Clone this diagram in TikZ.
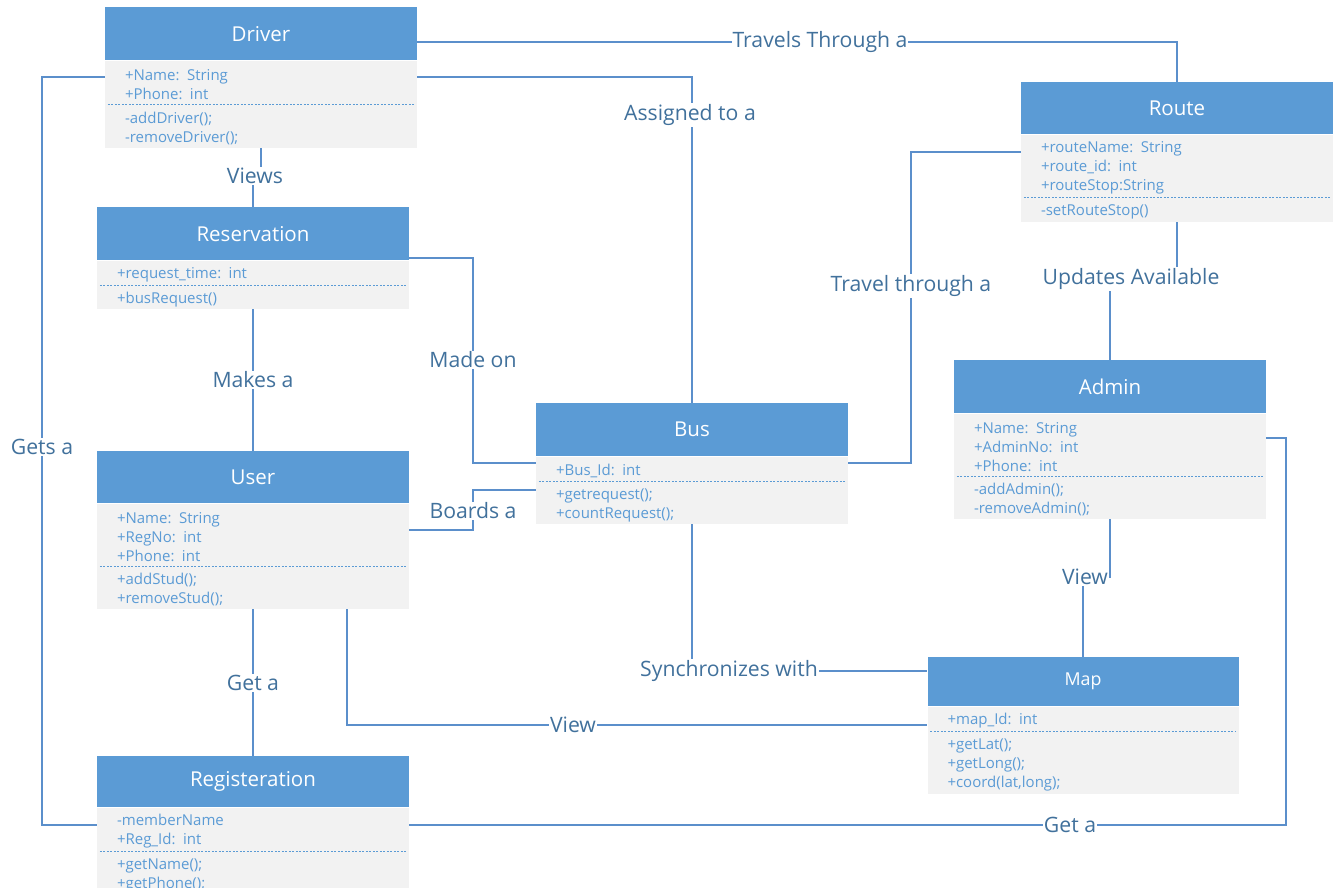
\documentclass[tikz,border=0pt]{standalone}
\usepackage{fontspec}
\setmainfont{Open Sans}
\usetikzlibrary{positioning}
\definecolor{head fill}{RGB}{91,155,213}
\definecolor{body fill}{RGB}{242,242,242}
\definecolor{body text}{RGB}{91,155,213}
\definecolor{link line}{RGB}{91,143,203}
\definecolor{link text}{RGB}{65,113,156}
\tikzset{head/.style={fill=head fill, text=white, anchor=north, minimum width=312pt,
        minimum height=53pt, inner sep=0pt, font=\fontsize{20.5}{24}\selectfont},
    body/.style={fill=body fill, text=body text, text width=272pt, inner xsep=20pt,
        inner ysep=0pt, align=left, font=\fontsize{15}{19}\selectfont,
        execute at begin node={\rule{0pt}{15pt}}},
    sep/.style={draw=body text, dash pattern=on 2pt off 1.5pt, line width=0.8pt},
    link/.style={draw=link line, line width=1.2pt},
    tag/.style={fill=white, text=link text, inner xsep=1pt, inner ysep=1pt,
        font=\fontsize{21.2}{25}\selectfont}}

\begin{document}
\begin{tikzpicture}[x=1pt,y=-1pt]
    \useasboundingbox (0,0) rectangle (1336,888);

    \node[head] (driver) at (261,7) {Driver};
    \node[body, minimum height=44pt, below=0pt of driver] (driver-a) {+Name: String\\+Phone: int};
    \node[body, minimum height=43pt, below=0pt of driver-a] (driver-o) {-addDriver();\\-removeDriver();};
    \draw[sep] ([xshift=3pt]driver-a.south west) -- ([xshift=-3pt]driver-a.south east);

    \node[head, minimum height=52pt] (route) at (1177,82) {Route};
    \node[body, minimum height=63pt, below=0pt of route] (route-a) {+routeName: String\\+route\_id: int\\+routeStop:String};
    \node[body, minimum height=24pt, below=0pt of route-a] (route-o) {-setRouteStop()};
    \draw[sep] ([xshift=3pt]route-a.south west) -- ([xshift=-3pt]route-a.south east);

    \node[head] (reservation) at (253,207) {Reservation};
    \node[body, minimum height=25pt, below=0pt of reservation] (reservation-a) {+request\_time: int};
    \node[body, minimum height=23pt, below=0pt of reservation-a] (reservation-o) {+busRequest()};
    \draw[sep] ([xshift=3pt]reservation-a.south west) -- ([xshift=-3pt]reservation-a.south east);

    \node[head] (bus) at (692,403) {Bus};
    \node[body, minimum height=25pt, below=0pt of bus] (bus-a) {+Bus\_Id: int};
    \node[body, minimum height=42pt, below=0pt of bus-a] (bus-o) {+getrequest();\\+countRequest();};
    \draw[sep] ([xshift=3pt]bus-a.south west) -- ([xshift=-3pt]bus-a.south east);

    \node[head] (admin) at (1110,360) {Admin};
    \node[body, minimum height=63pt, below=0pt of admin] (admin-a) {+Name: String\\+AdminNo: int\\+Phone: int};
    \node[body, minimum height=42pt, below=0pt of admin-a] (admin-o) {-addAdmin();\\-removeAdmin();};
    \draw[sep] ([xshift=3pt]admin-a.south west) -- ([xshift=-3pt]admin-a.south east);

    \node[head, minimum height=52pt] (user) at (253,451) {User};
    \node[body, minimum height=63pt, below=0pt of user] (user-a) {+Name: String\\+RegNo: int\\+Phone: int};
    \node[body, minimum height=42pt, below=0pt of user-a] (user-o) {+addStud();\\+removeStud();};
    \draw[sep] ([xshift=3pt]user-a.south west) -- ([xshift=-3pt]user-a.south east);

    \node[head, minimum width=311pt, minimum height=49pt, font=\fontsize{17.8}{22}\selectfont] (map) at (1083,657) {Map};
    \node[body, text width=271pt, minimum height=25pt, below=0pt of map] (map-a) {+map\_Id: int};
    \node[body, text width=271pt, minimum height=62pt, below=0pt of map-a] (map-o) {+getLat();\\+getLong();\\+coord(lat,long);};
    \draw[sep] ([xshift=3pt]map-a.south west) -- ([xshift=-3pt]map-a.south east);

    \node[head, minimum height=51pt] (reg) at (253,756) {Registeration};
    \node[body, minimum height=44pt, below=0pt of reg] (reg-a) {-memberName\\+Reg\_Id: int};
    \node[body, minimum height=42pt, below=0pt of reg-a] (reg-o) {+getName();\\+getPhone();};
    \draw[sep] ([xshift=3pt]reg-a.south west) -- ([xshift=-3pt]reg-a.south east);

    \draw[link] (driver.east |- 0,42) -| (route.north);
    \draw[link] (driver-a.east |- 0,77) -| (bus.north);
    \draw[link] (driver-a.west |- 0,77) -| (42,825) -- (reg-a.west |- 0,825);
    \draw[link] (driver-o.south) |- (253,176) -- (reservation.north);
    \draw[link] (reservation.east |- 0,258) -| (473,463) -- (bus-a.west |- 0,463);
    \draw[link] (reservation-o.south) -- (user.north);
    \draw[link] (user-a.east |- 0,530) -| (473,490) -- (bus-o.west |- 0,490);
    \draw[link] (user-o.south) -- (reg.north);
    \draw[link] (user-o.south -| 347,0) |- (map-a.west |- 0,725);
    \draw[link] (bus-o.south) |- (map.west |- 0,671);
    \draw[link] (bus-a.east |- 0,463) -| (911,152) -- (route-a.west |- 0,152);
    \draw[link] (route-o.south) |- (1110,279) -- (admin.north);
    \draw[link] (admin-o.south) |- (1083,577) -- (map.north);
    \draw[link] (admin-a.east |- 0,438) -| (1286,825) -- (reg-a.east |- 0,825);

    \node[tag] (travels) at (820,42) {Travels Through a};
    \node[tag] (assigned) at (690,115) {Assigned to a};
    \node[tag] (views) at (255,176) {Views};
    \node[tag] (gets) at (42,447) {Gets a};
    \node[tag] (madeon) at (473,360) {Made on};
    \node[tag] (makes) at (253,380) {Makes a};
    \node[tag] (boards) at (473,511) {Boards a};
    \node[tag] (geta) at (253,683) {Get a};
    \node[tag] (viewmap) at (573,725) {View};
    \node[tag] (sync) at (729,671) {Synchronizes with};
    \node[tag] (travel) at (911,286) {Travel through a};
    \node[tag] (updates) at (1131,279) {Updates Available};
    \node[tag] (viewadmin) at (1085,577) {View};
    \node[tag] (getreg) at (1070,825) {Get a};
\end{tikzpicture}
\end{document}
